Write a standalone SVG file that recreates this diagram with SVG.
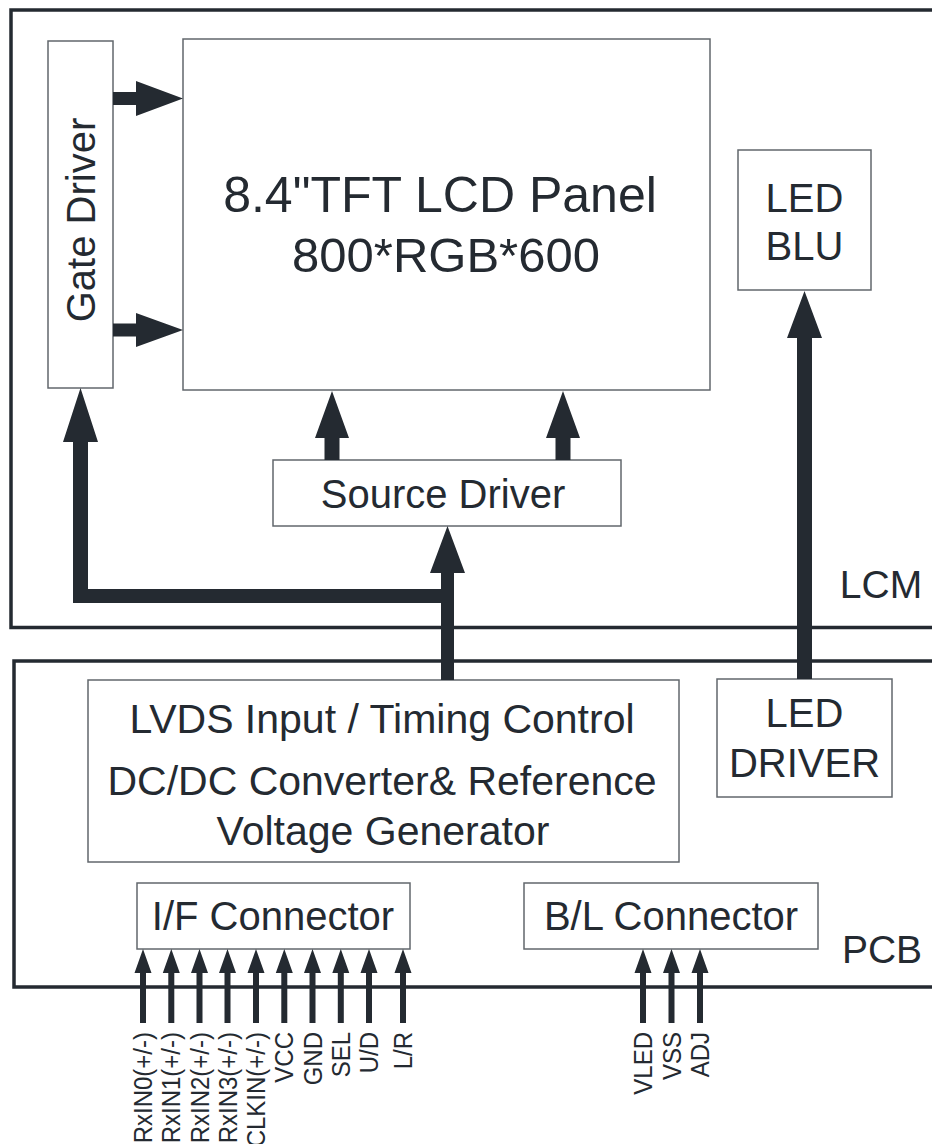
<svg xmlns="http://www.w3.org/2000/svg" width="932" height="1144" viewBox="0 0 932 1144">
<style>
.box{fill:#ffffff;stroke:#62676c;stroke-width:1.5}
.frame{fill:none;stroke:#242a31;stroke-width:3.5}
.t{font-family:"Liberation Sans",Arial,sans-serif;fill:#242a31;text-anchor:middle}
.pin{font-family:"Liberation Sans",Arial,sans-serif;fill:#242a31;font-size:24px;text-anchor:end}
.arr{fill:#242a31;stroke:none}
</style>
<rect width="932" height="1144" fill="#ffffff"/>
<g id="lcm-frame">
<polyline class="frame" points="934,10 11,10 11,627.5 934,627.5"/>
<text class="t" x="881" y="598" font-size="39">LCM</text>
</g>
<g id="pcb-frame">
<polyline class="frame" points="934,661 14,661 14,987 934,987"/>
<text class="t" x="882" y="963" font-size="39">PCB</text>
</g>
<g id="gate-driver">
<rect class="box" x="48" y="41" width="65" height="347"/>
<text class="t" transform="translate(95,220) rotate(-90)" font-size="40">Gate Driver</text>
</g>
<g id="lcd-panel">
<rect class="box" x="183" y="39" width="527" height="351"/>
<text class="t" x="440" y="212" font-size="50">8.4"TFT LCD Panel</text>
<text class="t" x="446" y="272" font-size="49">800*RGB*600</text>
</g>
<g id="source-driver">
<rect class="box" x="273" y="460" width="348" height="66"/>
<text class="t" x="443" y="508" font-size="40">Source Driver</text>
</g>
<g id="led-blu">
<rect class="box" x="738" y="150" width="133" height="140"/>
<text class="t" x="804.5" y="212" font-size="40">LED</text>
<text class="t" x="804.5" y="260" font-size="40">BLU</text>
</g>
<g id="lvds">
<rect class="box" x="88" y="680" width="591" height="182"/>
<text class="t" x="382" y="733" font-size="41">LVDS Input / Timing Control</text>
<text class="t" x="382" y="795" font-size="41">DC/DC Converter&amp; Reference</text>
<text class="t" x="383" y="845" font-size="41">Voltage Generator</text>
</g>
<g id="led-driver">
<rect class="box" x="717" y="679" width="175" height="118"/>
<text class="t" x="804.5" y="727" font-size="40">LED</text>
<text class="t" x="804.5" y="777" font-size="40">DRIVER</text>
</g>
<g id="if-connector">
<rect class="box" x="137" y="883" width="273" height="66"/>
<text class="t" x="273" y="930" font-size="40">I/F Connector</text>
</g>
<g id="bl-connector">
<rect class="box" x="524" y="883" width="294" height="66"/>
<text class="t" x="671" y="930" font-size="40">B/L Connector</text>
</g>
<g id="connectors">
<path class="arr" d="M441,680 L441,603 L73,603 L73,442 L63,442 L80.5,388 L98,442 L88,442 L88,589 L441,589 L441,573 L430,573 L447.5,526 L465,573 L454,573 L454,680 Z"/>
<path class="arr" d="M113,92 L136,92 L136,81 L183,98.5 L136,116 L136,105 L113,105 Z"/>
<path class="arr" d="M113,323.5 L136,323.5 L136,313 L183,330 L136,347 L136,336.5 L113,336.5 Z"/>
<path class="arr" d="M324.5,460 L324.5,438 L315,438 L332,391 L349,438 L339.5,438 L339.5,460 Z"/>
<path class="arr" d="M555.5,460 L555.5,438 L546,438 L563,391 L580,438 L570.5,438 L570.5,460 Z"/>
<path class="arr" d="M797,679 L797,338 L787,338 L804.5,291 L822,338 L812,338 L812,679 Z"/>
<g id="pin-arrows">
<path class="arr" d="M140,1023 L140,973 L134.5,973 L143,949 L151.5,973 L146,973 L146,1023 Z"/>
<path class="arr" transform="translate(28.3,0)" d="M140,1023 L140,973 L134.5,973 L143,949 L151.5,973 L146,973 L146,1023 Z"/>
<path class="arr" transform="translate(56.5,0)" d="M140,1023 L140,973 L134.5,973 L143,949 L151.5,973 L146,973 L146,1023 Z"/>
<path class="arr" transform="translate(84.5,0)" d="M140,1023 L140,973 L134.5,973 L143,949 L151.5,973 L146,973 L146,1023 Z"/>
<path class="arr" transform="translate(113,0)" d="M140,1023 L140,973 L134.5,973 L143,949 L151.5,973 L146,973 L146,1023 Z"/>
<path class="arr" transform="translate(141.3,0)" d="M140,1023 L140,973 L134.5,973 L143,949 L151.5,973 L146,973 L146,1023 Z"/>
<path class="arr" transform="translate(169.5,0)" d="M140,1023 L140,973 L134.5,973 L143,949 L151.5,973 L146,973 L146,1023 Z"/>
<path class="arr" transform="translate(197.8,0)" d="M140,1023 L140,973 L134.5,973 L143,949 L151.5,973 L146,973 L146,1023 Z"/>
<path class="arr" transform="translate(226,0)" d="M140,1023 L140,973 L134.5,973 L143,949 L151.5,973 L146,973 L146,1023 Z"/>
<path class="arr" transform="translate(260,0)" d="M140,1023 L140,973 L134.5,973 L143,949 L151.5,973 L146,973 L146,1023 Z"/>
<path class="arr" transform="translate(500,0)" d="M140,1023 L140,973 L134.5,973 L143,949 L151.5,973 L146,973 L146,1023 Z"/>
<path class="arr" transform="translate(528.5,0)" d="M140,1023 L140,973 L134.5,973 L143,949 L151.5,973 L146,973 L146,1023 Z"/>
<path class="arr" transform="translate(557,0)" d="M140,1023 L140,973 L134.5,973 L143,949 L151.5,973 L146,973 L146,1023 Z"/>
</g>
</g>
<g id="pin-labels">
<text class="pin" transform="translate(152,1032) rotate(-90) scale(1,1.07)">RxIN0(+/-)</text>
<text class="pin" transform="translate(180.3,1032) rotate(-90) scale(1,1.07)">RxIN1(+/-)</text>
<text class="pin" transform="translate(208.5,1032) rotate(-90) scale(1,1.07)">RxIN2(+/-)</text>
<text class="pin" transform="translate(236.5,1032) rotate(-90) scale(1,1.07)">RxIN3(+/-)</text>
<text class="pin" transform="translate(265,1032) rotate(-90) scale(1,1.07)">CLKIN(+/-)</text>
<text class="pin" transform="translate(293.3,1032) rotate(-90) scale(1,1.07)">VCC</text>
<text class="pin" transform="translate(321.5,1032) rotate(-90) scale(1,1.07)">GND</text>
<text class="pin" transform="translate(349.8,1032) rotate(-90) scale(1,1.07)">SEL</text>
<text class="pin" transform="translate(378,1032) rotate(-90) scale(1,1.07)">U/D</text>
<text class="pin" transform="translate(412,1032) rotate(-90) scale(1,1.07)">L/R</text>
<text class="pin" transform="translate(652,1032) rotate(-90) scale(1,1.07)">VLED</text>
<text class="pin" transform="translate(680.5,1032) rotate(-90) scale(1,1.07)">VSS</text>
<text class="pin" transform="translate(709,1032) rotate(-90) scale(1,1.07)">ADJ</text>
</g>
</svg>
